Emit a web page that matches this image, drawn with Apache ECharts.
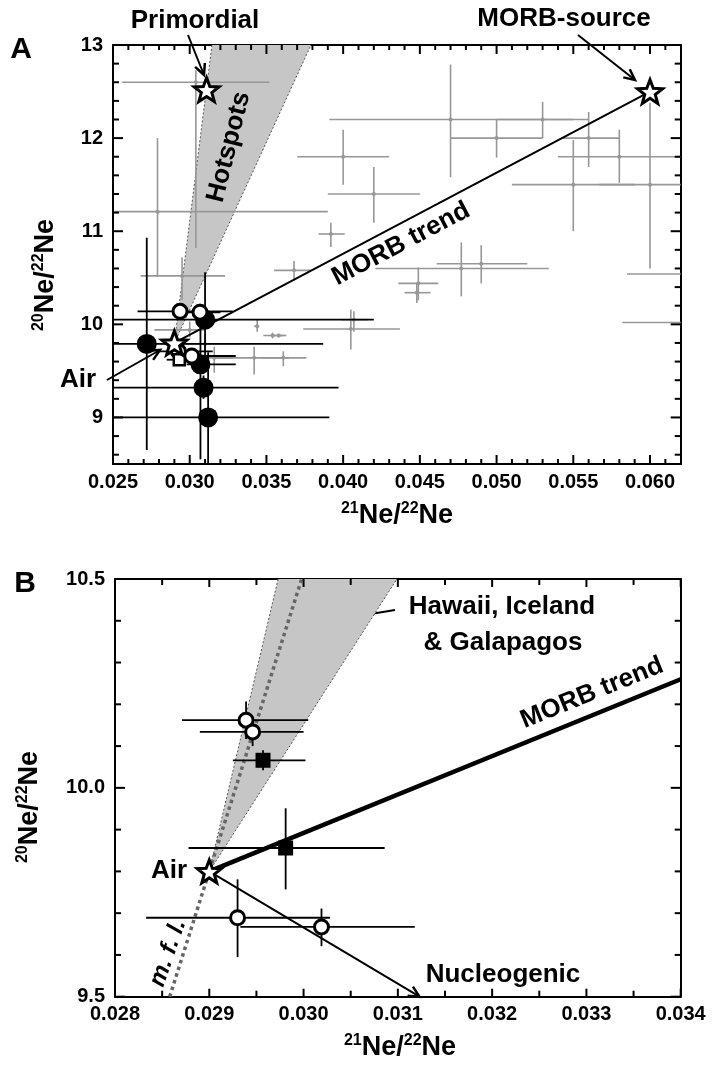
<!DOCTYPE html>
<html>
<head>
<meta charset="utf-8">
<script src="https://cdn.jsdelivr.net/npm/echarts@6/dist/echarts.min.js"></script>
<style>
html, body { margin: 0; padding: 0; background: #fff; }
#chart { width: 713px; height: 1067px; }
</style>
</head>
<body>
<div id="chart"></div>
<script>
var FONT = '"Liberation Sans", Arial, sans-serif';

// ---- tick values ----
var xTicksA = [0.025, 0.030, 0.035, 0.040, 0.045, 0.050, 0.055, 0.060];
var xMinorA = [0.026, 0.027, 0.028, 0.029, 0.031, 0.032, 0.033, 0.034, 0.036, 0.037, 0.038, 0.039,
    0.041, 0.042, 0.043, 0.044, 0.046, 0.047, 0.048, 0.049, 0.051, 0.052, 0.053, 0.054,
    0.056, 0.057, 0.058, 0.059, 0.061];
var yTicksA = [9, 10, 11, 12, 13];
var yMinorA = [8.6, 8.8, 9.2, 9.4, 9.6, 9.8, 10.2, 10.4, 10.6, 10.8, 11.2, 11.4, 11.6, 11.8, 12.2, 12.4, 12.6, 12.8];
var xTicksB = [0.028, 0.029, 0.030, 0.031, 0.032, 0.033, 0.034];
var xMinorB = [0.0285, 0.0295, 0.0305, 0.0315, 0.0325, 0.0335];
var yTicksB = [9.5, 10.0, 10.5];
var yMinorB = [9.6, 9.7, 9.8, 9.9, 10.1, 10.2, 10.3, 10.4];

// ---- panel A data ----
// rows: [21/22, 20/22, x low, x high, y low, y high]
var greyBarsA = [
    [0.0304, 12.60, 0.0256, 0.0352, 10.82, 12.73],
    [0.0279, 11.21, 0.0251, 0.0390, 10.51, 12.00],
    [0.0470, 12.20, 0.0391, 0.0550, 11.58, 12.79],
    [0.0530, 12.20, 0.0500, 0.0560, 12.00, 12.39],
    [0.0500, 12.00, 0.0470, 0.0530, 11.79, 12.20],
    [0.0560, 12.00, 0.0543, 0.0580, 11.69, 12.28],
    [0.0580, 11.80, 0.0540, 0.0635, 11.52, 12.09],
    [0.0550, 11.50, 0.0510, 0.0590, 11.00, 11.98],
    [0.0600, 11.50, 0.0567, 0.0640, 10.60, 12.38],
    [0.0477, 10.60, 0.0421, 0.0534, 10.30, 10.88],
    [0.0490, 10.65, 0.0461, 0.0520, 10.44, 10.85],
    [0.0449, 10.44, 0.0436, 0.0462, 10.26, 10.61],
    [0.0448, 10.34, 0.0440, 0.0457, 10.23, 10.44],
    [0.0405, 9.95, 0.0374, 0.0437, 9.73, 10.16],
    [0.0407, 10.05, 0.0399, 0.0416, 9.92, 10.14],
    [0.0392, 10.97, 0.0384, 0.0401, 10.83, 11.09],
    [0.0368, 10.58, 0.0355, 0.0379, 10.47, 10.68],
    [0.0400, 11.80, 0.0370, 0.0430, 11.50, 12.09],
    [0.0420, 11.40, 0.0390, 0.0450, 11.09, 11.69],
    [0.0295, 10.52, 0.0268, 0.0323, 10.26, 10.72],
    [0.0344, 9.98, 0.0342, 0.0345, 9.92, 10.05],
    [0.0354, 9.88, 0.0348, 0.0361, 9.85, 9.91],
    [0.0358, 9.88, 0.0353, 0.0363, 9.86, 9.90],
    [0.0342, 9.64, 0.0315, 0.0365, 9.46, 9.76],
    [0.0361, 9.64, 0.0347, 0.0376, 9.55, 9.71],
    [0.0316, 9.64, 0.0307, 0.0328, 9.48, 9.76],
    [0.0310, 9.79, 0.0281, 0.0333, 9.71, 9.89],
    [0.0300, 9.94, 0.0277, 0.0310, 9.86, 10.03],
    [0.0650, 10.54, 0.0585, 0.0720, 10.54, 10.54],
    [0.0650, 10.02, 0.0582, 0.0720, 10.02, 10.02]
];
var blackBarsA = [
    [0.0272, 9.79, 0.0235, 0.0387, 8.65, 10.93],
    [0.0310, 10.05, 0.0235, 0.0420, 9.60, 10.56],
    [0.0307, 9.57, 0.0298, 0.0330, 8.55, 10.00],
    [0.0309, 9.32, 0.0235, 0.0397, 9.20, 9.45],
    [0.0312, 9.00, 0.0235, 0.0391, 8.35, 9.70],
    [0.02937, 10.14, 0.0266, 0.0328, 10.08, 10.20],
    [0.03067, 10.13, 0.0295, 0.0320, 10.05, 10.22],
    [0.02926, 9.71, 0.0280, 0.0315, 9.65, 9.77],
    [0.03013, 9.66, 0.0290, 0.0330, 9.60, 9.72],
    [0.02932, 9.62, 0.0285, 0.0300, 9.58, 9.66]
];
var filledA = [[0.0272, 9.79], [0.0310, 10.05], [0.0307, 9.57], [0.0309, 9.32], [0.0312, 9.00]];
var openCircA = [[0.02937, 10.14], [0.03067, 10.13], [0.02926, 9.71], [0.03013, 9.66]];
var openSqA = [[0.02932, 9.62]];
var starsA = [[0.029, 9.80], [0.0311, 12.52], [0.060, 12.50]];
var morbA = [[0.029, 9.80], [0.060, 12.50]];
var wedgeA = [[0.029, 9.80], [0.03145, 13.0], [0.0379, 13.0]];

// ---- panel B data ----
var barsB = [
    [0.02939, 10.162, 0.02871, 0.03005, 10.117, 10.207],
    [0.02946, 10.134, 0.02890, 0.03000, 10.100, 10.170],
    [0.02957, 10.066, 0.02925, 0.03002, 10.042, 10.090],
    [0.02981, 9.856, 0.02878, 0.03086, 9.757, 9.951],
    [0.02930, 9.689, 0.02833, 0.03028, 9.595, 9.781],
    [0.03019, 9.667, 0.02933, 0.03118, 9.621, 9.711]
];
var openCircB = [[0.02939, 10.162], [0.02946, 10.134], [0.02930, 9.689], [0.03019, 9.667]];
var filledSqB = [[0.02957, 10.066], [0.02981, 9.856]];
var starsB = [[0.029, 9.80]];
var morbB = [[0.029, 9.80], [0.034, 10.26]];
var nucleoB = [[0.029, 9.80], [0.03123, 9.50]];
var mflB = [[0.02858, 9.50], [0.02998, 10.50]];
var wedgeB = [[0.029, 9.80], [0.02973, 10.5], [0.03099, 10.5]];

var STAR = 'path://M0,-10 L2.469,-3.398 L9.511,-3.09 L3.994,1.298 L5.878,8.09 L0,4.2 L-5.878,8.09 L-3.994,1.298 L-9.511,-3.09 L-2.469,-3.398 Z';

var GRID_A = { left: 113, top: 45, width: 567.7, height: 419 };
var GRID_B = { left: 115, top: 579, width: 565.7, height: 417.7 };

function fmt3(v) { return v.toFixed(3); }
function fmtInt(v) { return String(Math.round(v)); }
function fmt1(v) { return v.toFixed(1); }

function axis(kind, grid, pos, range, ticks, fmt) {
    var a = {
        type: 'value', gridIndex: grid, position: pos, min: range[0], max: range[1],
        axisLine: { show: true, onZero: false, lineStyle: { color: '#000', width: 2 } },
        axisTick: { show: false },
        axisLabel: { show: false },
        splitLine: { show: false }
    };
    if (fmt) {
        a.axisLabel = { show: true, customValues: ticks, formatter: fmt, color: '#000', fontFamily: FONT,
            fontWeight: 'bold', fontSize: 20, margin: kind === 'x' ? 8 : 10, hideOverlap: false };
    }
    return a;
}

// error bars, clipped to the plot
function barItem(color, width, dot) {
    return function(params, api) {
        var c = params.coordSys;
        var rect = { x: c.x, y: c.y, width: c.width, height: c.height };
        var x = api.value(0), y = api.value(1);
        var p = api.coord([x, y]);
        var kids = [];
        var st = { stroke: color, lineWidth: width };
        if (p[1] >= rect.y && p[1] <= rect.y + rect.height) {
            var h = echarts.graphic.clipPointsByRect([api.coord([api.value(2), y]), api.coord([api.value(3), y])], rect);
            kids.push({ type: 'line', shape: { x1: h[0][0], y1: h[0][1], x2: h[1][0], y2: h[1][1] }, style: st });
        }
        if (p[0] >= rect.x && p[0] <= rect.x + rect.width) {
            var v = echarts.graphic.clipPointsByRect([api.coord([x, api.value(4)]), api.coord([x, api.value(5)])], rect);
            kids.push({ type: 'line', shape: { x1: v[0][0], y1: v[0][1], x2: v[1][0], y2: v[1][1] }, style: st });
            if (dot) kids.push({ type: 'circle', shape: { cx: p[0], cy: p[1], r: 2 }, style: { fill: color } });
        }
        return { type: 'group', children: kids };
    };
}

function wedgeItem(pts) {
    return function(params, api) {
        if (params.dataIndex !== 0) return;
        var px = pts.map(function(q) { return api.coord(q); });
        return {
            type: 'group',
            children: [
                { type: 'polygon', shape: { points: px }, style: { fill: '#c6c6c6' } },
                { type: 'polyline', shape: { points: [px[1], px[0], px[2]] },
                  style: { stroke: '#555', lineWidth: 1, lineDash: [2, 2], fill: null } }
            ]
        };
    };
}

// chevron at the end of a two-point line
function chevron(params, api) {
    if (params.dataIndex !== 1) return;
    var p0 = api.coord([api.value(0, 0), api.value(1, 0)]);
    var p1 = api.coord([api.value(0), api.value(1)]);
    var a = Math.atan2(p1[1] - p0[1], p1[0] - p0[0]), L = 12, s = 0.45;
    return {
        type: 'polyline',
        shape: { points: [[p1[0] - L * Math.cos(a - s), p1[1] - L * Math.sin(a - s)], p1,
                          [p1[0] - L * Math.cos(a + s), p1[1] - L * Math.sin(a + s)]] },
        style: { stroke: '#000', lineWidth: 2.5, fill: null }
    };
}

var chart = echarts.init(document.getElementById('chart'));

var option = {
    animation: false,
    grid: [
        { left: GRID_A.left, top: GRID_A.top, width: GRID_A.width, height: GRID_A.height, show: false },
        { left: GRID_B.left, top: GRID_B.top, width: GRID_B.width, height: GRID_B.height, show: false }
    ],
    xAxis: [
        axis('x', 0, 'bottom', [0.025, 0.062], xTicksA, fmt3),
        axis('x', 0, 'top', [0.025, 0.062]),
        axis('x', 1, 'bottom', [0.028, 0.034], xTicksB, fmt3),
        axis('x', 1, 'top', [0.028, 0.034])
    ],
    yAxis: [
        axis('y', 0, 'left', [8.5, 13], yTicksA, fmtInt),
        axis('y', 0, 'right', [8.5, 13]),
        axis('y', 1, 'left', [9.5, 10.5], yTicksB, fmt1),
        axis('y', 1, 'right', [9.5, 10.5])
    ],
    series: [
        // ---- A ----
        { type: 'custom', xAxisIndex: 0, yAxisIndex: 0, data: wedgeA, renderItem: wedgeItem(wedgeA), z: 1, silent: true },
        { type: 'custom', xAxisIndex: 0, yAxisIndex: 0, data: greyBarsA, encode: { x: 0, y: 1 },
          renderItem: barItem('#979797', 1.6, true), z: 2, silent: true },
        { type: 'line', xAxisIndex: 0, yAxisIndex: 0, data: morbA, symbol: 'none',
          lineStyle: { color: '#000', width: 2 }, z: 3, silent: true },
        { type: 'custom', xAxisIndex: 0, yAxisIndex: 0, data: blackBarsA, encode: { x: 0, y: 1 },
          renderItem: barItem('#000', 1.8, false), z: 4, silent: true },
        { type: 'scatter', xAxisIndex: 0, yAxisIndex: 0, data: filledA, symbol: 'circle', symbolSize: 20,
          itemStyle: { color: '#000', opacity: 1 }, z: 5 },
        { type: 'scatter', xAxisIndex: 0, yAxisIndex: 0, data: openCircA, symbol: 'circle', symbolSize: 14,
          itemStyle: { color: '#fff', borderColor: '#000', borderWidth: 3, opacity: 1 }, z: 6 },
        { type: 'scatter', xAxisIndex: 0, yAxisIndex: 0, data: openSqA, symbol: 'rect', symbolSize: 11,
          itemStyle: { color: '#fff', borderColor: '#000', borderWidth: 2.5, opacity: 1 }, z: 6 },
        { type: 'scatter', xAxisIndex: 0, yAxisIndex: 0, data: starsA, symbol: STAR, symbolSize: 25,
          symbolKeepAspect: true, itemStyle: { color: '#fff', borderColor: '#000', borderWidth: 3, opacity: 1 }, z: 7 },
        // ---- B ----
        { type: 'custom', xAxisIndex: 2, yAxisIndex: 2, data: wedgeB, renderItem: wedgeItem(wedgeB), z: 1, silent: true },
        { type: 'line', xAxisIndex: 2, yAxisIndex: 2, data: mflB, symbol: 'none',
          lineStyle: { color: '#666', width: 3.5, type: [3.5, 3.5] }, z: 2, silent: true },
        { type: 'line', xAxisIndex: 2, yAxisIndex: 2, data: morbB, symbol: 'none',
          lineStyle: { color: '#000', width: 4.5 }, z: 3, silent: true },
        { type: 'line', xAxisIndex: 2, yAxisIndex: 2, data: nucleoB, symbol: 'none',
          lineStyle: { color: '#000', width: 2 }, z: 3, silent: true },
        { type: 'custom', xAxisIndex: 2, yAxisIndex: 2, data: nucleoB, encode: { x: 0, y: 1 },
          renderItem: chevron, z: 3, silent: true },
        { type: 'custom', xAxisIndex: 2, yAxisIndex: 2, data: barsB, encode: { x: 0, y: 1 },
          renderItem: barItem('#000', 1.8, false), z: 4, silent: true },
        { type: 'scatter', xAxisIndex: 2, yAxisIndex: 2, data: filledSqB, symbol: 'rect', symbolSize: 15,
          itemStyle: { color: '#000', opacity: 1 }, z: 5 },
        { type: 'scatter', xAxisIndex: 2, yAxisIndex: 2, data: openCircB, symbol: 'circle', symbolSize: 14,
          itemStyle: { color: '#fff', borderColor: '#000', borderWidth: 3, opacity: 1 }, z: 6 },
        { type: 'scatter', xAxisIndex: 2, yAxisIndex: 2, data: starsB, symbol: STAR, symbolSize: 24,
          symbolKeepAspect: true, itemStyle: { color: '#fff', borderColor: '#000', borderWidth: 3, opacity: 1 }, z: 7 }
    ]
};
chart.setOption(option);

// ---- annotations ----
function label(text, x, y, size, rotDeg, italic) {
    return {
        type: 'text', x: x, y: y, rotation: (rotDeg || 0) * Math.PI / 180, z: 100,
        style: {
            text: text, fill: '#000', font: (italic ? 'italic ' : '') + 'bold ' + size + 'px ' + FONT,
            align: 'center', verticalAlign: 'middle', textAlign: 'center', textVerticalAlign: 'middle'
        }
    };
}
function ratioName(top, x, y, rotDeg) {
    return {
        type: 'text', x: x, y: y, rotation: (rotDeg || 0) * Math.PI / 180, z: 100,
        style: {
            text: '{s|' + top + '}{n|Ne/}{s|22}{n|Ne}',
            align: 'center', verticalAlign: 'middle', textAlign: 'center', textVerticalAlign: 'middle',
            rich: {
                s: { fontSize: 16, fontWeight: 'bold', fontFamily: FONT, lineHeight: 16, verticalAlign: 'top', fill: '#000', color: '#000' },
                n: { fontSize: 27, fontWeight: 'bold', fontFamily: FONT, lineHeight: 30, fill: '#000', color: '#000' }
            }
        }
    };
}
function arrow(x1, y1, x2, y2, w) {
    var a = Math.atan2(y2 - y1, x2 - x1), L = 12, s = 0.45;
    return {
        type: 'group', z: 100,
        children: [
            { type: 'line', shape: { x1: x1, y1: y1, x2: x2, y2: y2 }, style: { stroke: '#000', lineWidth: w } },
            { type: 'polyline', shape: { points: [
                [x2 - L * Math.cos(a - s), y2 - L * Math.sin(a - s)], [x2, y2],
                [x2 - L * Math.cos(a + s), y2 - L * Math.sin(a + s)]] },
              style: { stroke: '#000', lineWidth: w + 0.5, fill: null } }
        ]
    };
}

// inward frame ticks, placed with the axes' own scales
function frameTicks(xi, yi, g, xs, ys, lenX, lenY) {
    var out = [];
    var b = g.top + g.height, r = g.left + g.width;
    var st = { stroke: '#000', lineWidth: 2 };
    xs.forEach(function(v) {
        var px = chart.convertToPixel({ xAxisIndex: xi }, v);
        out.push({ type: 'line', z: 90, shape: { x1: px, y1: b, x2: px, y2: b - lenX }, style: st });
        out.push({ type: 'line', z: 90, shape: { x1: px, y1: g.top, x2: px, y2: g.top + lenX }, style: st });
    });
    ys.forEach(function(v) {
        var py = chart.convertToPixel({ yAxisIndex: yi }, v);
        out.push({ type: 'line', z: 90, shape: { x1: g.left, y1: py, x2: g.left + lenY, y2: py }, style: st });
        out.push({ type: 'line', z: 90, shape: { x1: r, y1: py, x2: r - lenY, y2: py }, style: st });
    });
    return out;
}

var ticks = [].concat(
    frameTicks(0, 0, GRID_A, xTicksA, yTicksA, 9, 10),
    frameTicks(0, 0, GRID_A, xMinorA, yMinorA, 5, 6),
    frameTicks(2, 2, GRID_B, xTicksB, yTicksB, 8, 10),
    frameTicks(2, 2, GRID_B, xMinorB, yMinorB, 6, 6)
);

chart.setOption({
    graphic: ticks.concat([
        label('A', 21, 50, 30),
        label('B', 25, 584, 30),
        label('Primordial', 195, 21, 26),
        label('MORB-source', 564, 19, 26),
        label('Hotspots', 229, 147, 26, 76),
        label('MORB trend', 401, 244, 26, 27.7),
        label('Air', 78, 380, 26),
        label('Hawaii, Iceland', 502, 607, 26),
        label('& Galapagos', 503, 643, 26),
        label('MORB trend', 592, 693, 26, 22.2),
        label('Nucleogenic', 503, 975, 26),
        label('Air', 169, 871, 26),
        label('m. f. l.', 168, 953, 24, 71, true),
        ratioName('21', 397, 516, 0),
        ratioName('21', 400, 1048, 0),
        ratioName('20', 46, 275, 90),
        ratioName('20', 30, 807, 90),
        arrow(188, 35, 204, 75, 2),
        arrow(578, 35, 635, 80, 2),
        arrow(107, 380, 160, 350, 2),
        arrow(395, 610, 328, 621, 2)
    ])
});
</script>
</body>
</html>
